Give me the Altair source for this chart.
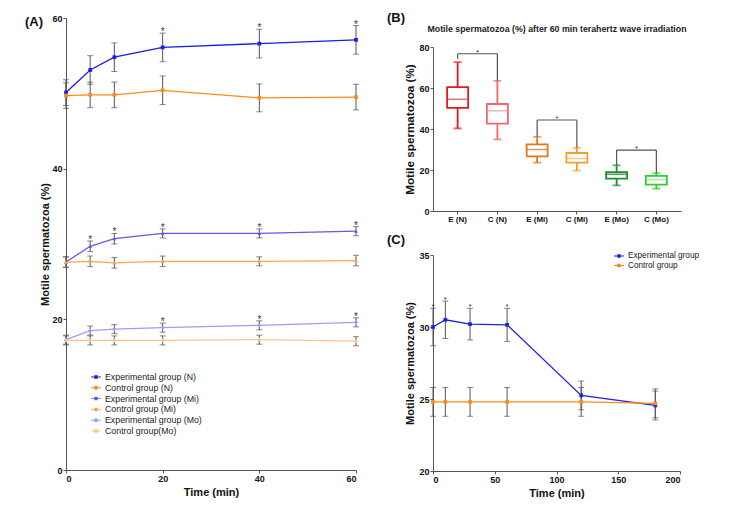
import altair as alt
import pandas as pd

FONT = "Liberation Sans"

# ---------------- Panel A data ----------------
time_a = [0, 5, 10, 20, 40, 60]
groups_a = ["Experimental group (N)", "Control group (N)", "Experimental group (Mi)",
            "Control group (Mi)", "Experimental group (Mo)", "Control group(Mo)"]
colors_a = ["#1c1cf0", "#ff8a1c", "#5c5cf2", "#ffa448", "#9c9cfa", "#ffc48c"]
shapes_a = ["square", "square", "triangle-up", "triangle-up", "cross", "cross"]
exp_n = [50.1, 53.1, 54.8, 56.1, 56.6, 57.1]
exp_n_err = [1.7, 1.9, 1.9, 1.9, 1.9, 1.9]
ctl_n = [49.7, 49.8, 49.8, 50.4, 49.4, 49.5]
ctl_n_err = [1.7, 1.7, 1.7, 1.9, 1.85, 1.7]
exp_mi = [27.6, 29.7, 30.7, 31.4, 31.4, 31.7]
exp_mi_err = [0.7, 0.7, 0.7, 0.6, 0.6, 0.6]
ctl_mi = [27.6, 27.7, 27.5, 27.7, 27.7, 27.8]
ctl_mi_err = [0.7, 0.7, 0.7, 0.7, 0.6, 0.7]
exp_mo = [17.3, 18.5, 18.7, 18.9, 19.2, 19.6]
exp_mo_err = [0.6, 0.6, 0.6, 0.6, 0.6, 0.6]
ctl_mo = [17.2, 17.2, 17.2, 17.2, 17.3, 17.1]
ctl_mo_err = [0.6, 0.6, 0.6, 0.6, 0.6, 0.6]
sig_exp_n = [0, 0, 0, 1, 1, 1]
sig_exp_mi = [0, 1, 1, 1, 1, 1]
sig_exp_mo = [0, 0, 0, 1, 1, 1]
no_sig = [0, 0, 0, 0, 0, 0]

# ---------------- Panel B data ----------------
cats_b = ["E (N)", "C (N)", "E (Mi)", "C (Mi)", "E (Mo)", "C (Mo)"]
colors_b = ["#e8161e", "#f5646c", "#e8761c", "#f5a02e", "#1e8c2a", "#2ecc2e"]
median_colors_b = ["#c0504d", "#e8a0a0", "#c87830", "#f0b060", "#186a20", "#90e090"]
whisk_lo = [40.3, 34.9, 23.6, 19.7, 12.5, 10.9]
q1_b = [50.3, 42.6, 26.6, 23.6, 15.8, 12.9]
median_b = [54.5, 48.9, 30.0, 25.6, 17.9, 15.3]
q3_b = [60.4, 52.2, 32.5, 28.3, 19.0, 17.1]
whisk_hi = [72.6, 63.5, 36.2, 30.8, 22.3, 18.4]
br_left = ["E (N)", "E (Mi)", "E (Mo)"]
br_right = ["C (N)", "C (Mi)", "C (Mo)"]
br_level = [76.7, 44.4, 29.7]
br_left_end = [74.3, 36.2, 22.3]
br_right_end = [63.5, 30.8, 18.4]

# ---------------- Panel C data ----------------
time_c = [0, 10, 30, 60, 120, 180]
groups_c = ["Experimental group", "Control group"]
colors_c = ["#2020e6", "#ff8a1c"]
shapes_c = ["square", "square"]
exp_c = [30.0, 30.5, 30.2, 30.15, 25.25, 24.55]
exp_c_err = [1.3, 1.3, 1.1, 1.15, 1.0, 1.0]
ctl_c = [24.8, 24.8, 24.8, 24.8, 24.8, 24.7]
ctl_c_err = [1.0, 1.0, 1.0, 1.0, 1.0, 1.0]
sig_c = [1, 1, 1, 1, 0, 0]

LEGEND_SYMBOL = "M-1,-0.09H1V0.09H-1Z M-0.35,-0.35H0.35V0.35H-0.35Z"
ERR_COLOR = "#555555"


def long_df(times, groups, shapes, means, errs, sigs):
    rows = []
    for g, sh, m, e, s in zip(groups, shapes, means, errs, sigs):
        for t, mv, ev, sv in zip(times, m, e, s):
            rows.append({"time": t, "group": g, "shape": sh, "mean": mv, "lo": mv - ev,
                         "hi": mv + ev, "sig": "*" if sv else ""})
    return pd.DataFrame(rows)


df_a = long_df(time_a, groups_a, shapes_a,
               [exp_n, ctl_n, exp_mi, ctl_mi, exp_mo, ctl_mo],
               [exp_n_err, ctl_n_err, exp_mi_err, ctl_mi_err, exp_mo_err, ctl_mo_err],
               [sig_exp_n, no_sig, sig_exp_mi, no_sig, sig_exp_mo, no_sig])
df_c = long_df(time_c, groups_c, shapes_c, [exp_c, ctl_c], [exp_c_err, ctl_c_err],
               [sig_c, no_sig])


def time_panel(df, groups, colors, xdom, xvals, ydom, yvals, w, h, legend, errsize,
               starsize, stardy, yrange=None, ytitlepad=3):
    base = alt.Chart(df)
    x = alt.X("time:Q", scale=alt.Scale(domain=xdom, nice=False),
              axis=alt.Axis(values=xvals, title="Time (min)", format="d"))
    if yrange is None:
        yscale = alt.Scale(domain=ydom, nice=False, zero=False)
    else:
        yscale = alt.Scale(domain=ydom, nice=False, zero=False, range=yrange)
    y = alt.Y("mean:Q", scale=yscale,
              axis=alt.Axis(values=yvals, title="Motile spermatozoa (%)",
                            titlePadding=ytitlepad))
    color = alt.Color("group:N", scale=alt.Scale(domain=groups, range=colors),
                      sort=groups, legend=legend)
    err_rule = base.mark_rule(color=ERR_COLOR, strokeWidth=1).encode(
        x=x, y=alt.Y("lo:Q"), y2="hi:Q")
    cap_lo = base.mark_tick(color=ERR_COLOR, size=errsize, thickness=1, orient="horizontal").encode(
        x=x, y=alt.Y("lo:Q"))
    cap_hi = base.mark_tick(color=ERR_COLOR, size=errsize, thickness=1, orient="horizontal").encode(
        x=x, y=alt.Y("hi:Q"))
    line = base.mark_line(strokeWidth=1.3).encode(x=x, y=y, color=color, detail="group:N")
    layers = [line, err_rule, cap_lo, cap_hi]
    for sh in sorted(set(df["shape"])):
        layers.append(base.transform_filter(alt.datum.shape == sh).mark_point(
            filled=True, size=14, opacity=1, shape=sh).encode(x=x, y=y, color=color))
    stars = base.mark_text(fontSize=starsize, font=FONT, color="#333333", baseline="alphabetic",
                           dy=stardy).encode(x=x, y=alt.Y("hi:Q"), text="sig:N")
    layers.append(stars)
    return alt.layer(*layers).properties(width=w, height=h)


legend_a = alt.Legend(orient="none", legendX=25, legendY=325, title=None,
                      symbolType=LEGEND_SYMBOL, symbolSize=100, labelFontSize=8.8,
                      labelFont=FONT, labelFontWeight="normal", rowPadding=0.8,
                      labelOffset=4, symbolStrokeWidth=0, labelColor="#222222")
panel_a = time_panel(df_a, groups_a, colors_a, [0, 60], [0, 20, 40, 60],
                     [0, 60], [0, 20, 40, 60], 290, 423, legend_a, 6, 10, 2,
                     yrange=[423, -29], ytitlepad=1).properties(
    title=alt.TitleParams("(A)", anchor="start", fontSize=13, fontWeight="bold", font=FONT,
                          dx=-15, dy=19, color="#111111"))

legend_c = alt.Legend(orient="none", legendX=181, legendY=-4, title=None,
                      symbolType=LEGEND_SYMBOL, symbolSize=100, labelFontSize=8.2,
                      labelFont=FONT, labelFontWeight="normal", rowPadding=0.5,
                      labelOffset=4, symbolStrokeWidth=0, labelColor="#222222")
panel_c = time_panel(df_c, groups_c, colors_c, [0, 200],
                     [0, 50, 100, 150, 200], [20, 35], [20, 25, 30, 35], 247, 216,
                     legend_c, 6, 8, 1).properties(
    title=alt.TitleParams("(C)", anchor="start", fontSize=13, fontWeight="bold", font=FONT,
                          dx=-18, color="#111111"))

# ---------------- Panel B ----------------
df_b = pd.DataFrame({"cat": cats_b, "wlo": whisk_lo, "q1": q1_b, "med": median_b,
                     "q3": q3_b, "whi": whisk_hi, "mcol": median_colors_b})
df_br = pd.DataFrame({"l": br_left, "r": br_right, "lev": br_level,
                      "lend": br_left_end, "rend": br_right_end, "s": ["*"] * 3})

xb = alt.X("cat:N", sort=cats_b,
           scale=alt.Scale(domain=cats_b, paddingInner=0.2, paddingOuter=0.22),
           axis=alt.Axis(title=None, labelAngle=0, labelFontSize=8))
yscale_b = alt.Scale(domain=[0, 80], nice=False)
stroke_b = alt.Stroke("cat:N", scale=alt.Scale(domain=cats_b, range=colors_b), legend=None)
color_b = alt.Color("cat:N", scale=alt.Scale(domain=cats_b, range=colors_b), legend=None)
bb = alt.Chart(df_b)
whisk = bb.mark_rule(strokeWidth=1.8).encode(
    x=xb, y=alt.Y("wlo:Q", scale=yscale_b,
                  axis=alt.Axis(values=[0, 20, 40, 60, 80], title="Motile spermatozoa (%)",
                                titleFontSize=11.7)),
    y2="whi:Q", color=color_b)
wcap_lo = bb.mark_tick(size=8, thickness=1.8, orient="horizontal").encode(
    x=xb, y=alt.Y("wlo:Q", scale=yscale_b), color=color_b)
wcap_hi = bb.mark_tick(size=8, thickness=1.8, orient="horizontal").encode(
    x=xb, y=alt.Y("whi:Q", scale=yscale_b), color=color_b)
box = bb.mark_bar(size=21, fill="white", strokeWidth=1.8).encode(
    x=xb, y=alt.Y("q1:Q", scale=yscale_b), y2="q3:Q", stroke=stroke_b)
med = bb.mark_tick(size=20, thickness=1.6, orient="horizontal").encode(
    x=xb, y=alt.Y("med:Q", scale=yscale_b), color=alt.Color("mcol:N", scale=None))
bk = alt.Chart(df_br)
br_h = bk.mark_rule(color="#555555", strokeWidth=1.2).encode(
    x=alt.X("l:N", sort=cats_b, scale=alt.Scale(domain=cats_b)), x2="r:N",
    y=alt.Y("lev:Q", scale=yscale_b))
br_l = bk.mark_rule(color="#555555", strokeWidth=1.2).encode(
    x=alt.X("l:N", sort=cats_b), y=alt.Y("lev:Q", scale=yscale_b), y2="lend:Q")
br_r = bk.mark_rule(color="#555555", strokeWidth=1.2).encode(
    x=alt.X("r:N", sort=cats_b), y=alt.Y("lev:Q", scale=yscale_b), y2="rend:Q")
br_s = bk.mark_text(fontSize=8, font=FONT, color="#333333", dx=20, dy=1,
                    baseline="alphabetic").encode(
    x=alt.X("l:N", sort=cats_b), y=alt.Y("lev:Q", scale=yscale_b), text="s:N")

panel_b_inner = alt.layer(whisk, wcap_lo, wcap_hi, box, med, br_h, br_l, br_r, br_s).properties(
    width=248, height=164,
    title=alt.TitleParams("Motile spermatozoa (%) after 60 min terahertz wave irradiation",
                          anchor="middle", frame="group", fontSize=8.8, fontWeight="bold",
                          font=FONT, offset=9, color="#222222"))
panel_b = alt.vconcat(panel_b_inner, title=alt.TitleParams(
    "(B)", anchor="start", fontSize=13, fontWeight="bold", font=FONT, dx=-18, offset=0,
    color="#111111"))

right = alt.vconcat(panel_b, panel_c, spacing=11).resolve_scale(
    color="independent", stroke="independent").resolve_legend(color="independent")
chart = alt.hconcat(panel_a, right, spacing=27).resolve_scale(
    color="independent", stroke="independent").resolve_legend(
    color="independent").configure(
    font=FONT, padding={"left": 16, "top": 4, "right": 0, "bottom": 0}
).configure_view(stroke=None).configure_axis(
    grid=False, labelFont=FONT, labelFontWeight="bold", labelFontSize=9,
    labelColor="#111111", titleFont=FONT, titleFontWeight="bold", titleFontSize=11,
    titleColor="#111111", domainColor="#555555", tickColor="#555555", tickSize=3,
    labelPadding=1, titlePadding=3)

chart.save("out.html", embed_options={"renderer": "svg", "actions": False})
